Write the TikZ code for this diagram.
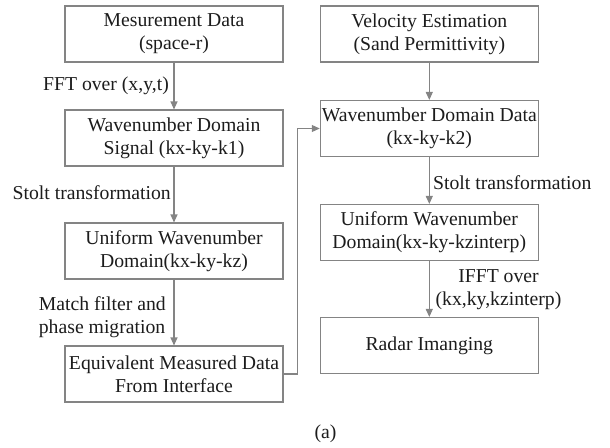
\documentclass[tikz,border=0pt]{standalone}
\usepackage{fontspec}
\setmainfont{Liberation Serif}
\usetikzlibrary{arrows.meta}
\definecolor{linegray}{RGB}{132,132,132}
\definecolor{txt}{RGB}{28,28,28}
\begin{document}
\begin{tikzpicture}[x=1pt,y=-1pt,
  box/.style={draw=linegray, line width=1.1pt, minimum width=218pt, minimum height=56pt,
    align=center, inner sep=0pt, text=txt, font=\fontsize{19.7}{23}\selectfont},
  lbl/.style={text=txt, inner sep=0pt, font=\fontsize{19.7}{23}\selectfont},
  arr/.style={draw=linegray, line width=1.1pt, -{Triangle[length=8pt,width=7pt]}}]
\useasboundingbox (0,0) rectangle (610,447);
\node[box] (L1) at (174,34) {Mesurement Data\\(space-r)};
\node[box] (L2) at (174,138) {Wavenumber Domain\\Signal (kx-ky-k1)};
\node[box] (L3) at (174,251) {Uniform Wavenumber\\Domain(kx-ky-kz)};
\node[box] (L4) at (174,374) {Equivalent Measured Data\\From Interface};
\node[box] (R1) at (429.3,34) {Velocity Estimation\\(Sand Permittivity)};
\node[box] (R2) at (429.3,128.5) {Wavenumber Domain Data\\(kx-ky-k2)};
\node[box] (R3) at (429.3,232.5) {Uniform Wavenumber\\Domain(kx-ky-kzinterp)};
\node[box] (R4) at (429.3,345.5) {Radar Imanging};
\draw[arr] (L1) -- (L2);
\draw[arr] (L2) -- (L3);
\draw[arr] (L3) -- (L4);
\draw[arr] (R1) -- (R2);
\draw[arr] (R2) -- (R3);
\draw[arr] (R3) -- (R4);
\coordinate (bend) at (297.7,0);
\draw[arr] (L4.east) -- (L4.east -| bend) |- (R2.west);
\node[lbl, anchor=east] (t1) at (169,86) {FFT over (x,y,t)};
\node[lbl, anchor=east] (t2) at (171,193) {Stolt transformation};
\node[lbl, anchor=east, align=left] (t3) at (166,317) {Match filter and\\phase migration};
\node[lbl, anchor=west] (t4) at (433,183) {Stolt transformation};
\node[lbl, align=center] (t5) at (498.5,289.5) {IFFT over\\(kx,ky,kzinterp)};
\node[lbl] (cap) at (325.5,434) {(a)};
\end{tikzpicture}
\end{document}
